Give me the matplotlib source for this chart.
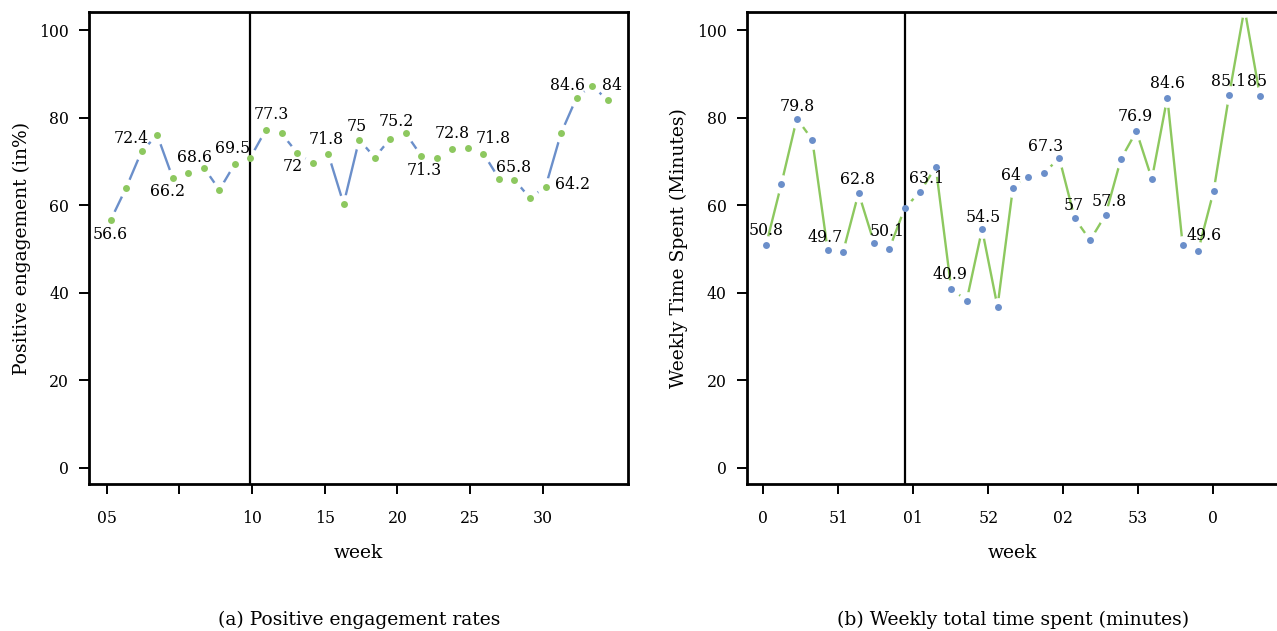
import numpy as np
import matplotlib
matplotlib.use("Agg")
import matplotlib.pyplot as plt

plt.rcParams['font.family'] = ['DejaVu Serif']

# Weekly series (one value per week)
engagement = [56.6, 64.0, 72.4, 76.0, 66.2, 67.3, 68.6, 63.5, 69.5, 70.9,
              77.3, 76.4, 72.0, 69.6, 71.8, 60.3, 75.0, 70.9, 75.2, 76.4,
              71.3, 70.9, 72.8, 73.1, 71.8, 66.1, 65.8, 61.6, 64.2, 76.5,
              84.6, 87.3, 84.0]
time_spent = [50.8, 64.9, 79.8, 75.0, 49.7, 49.4, 62.8, 51.4, 50.1, 59.4,
              63.1, 68.8, 40.9, 38.2, 54.5, 36.8, 64.0, 66.5, 67.3, 70.8,
              57.0, 52.0, 57.8, 70.6, 76.9, 66.0, 84.6, 50.8, 49.6, 63.2,
              85.1, 105.0, 85.0]

eng_ticklabels = ["05", "", "10", "15", "20", "25", "30"]
time_ticklabels = ["0", "51", "01", "52", "02", "53", "0"]
yticks = [0, 20, 40, 60, 80, 100]
split_week = 9

BLUE = "#6b8fca"
GREEN = "#8dc85f"

# label placement (pixel offsets of each label's centre from its point)
eng_label_offsets = [(0, -13), (-11, 13.4), (-5.4, -12.4), (-9.7, 11.6),
                     (-2.4, 16), (5.7, 16), (-4.6, -13), (-2, 14.7),
                     (-2, 14.3), (6, 18.7), (2.7, -14), (0, 17),
                     (10, 16.6), (-1.4, 13.3), (27, 3), (-9.6, 13.7),
                     (4, 16.3)]
time_label_offsets = [(0, 15.7), (0, 13.3), (-2.3, 14), (-1, 15),
                      (-2, 18), (6, 14), (-1.3, 15.6), (1.3, 13.3),
                      (-1.7, 13.4), (1.7, 28), (-1.3, 14.4), (4, 14),
                      (-0.7, 15.7), (0, 15.3), (5.7, 16), (0, 15),
                      (-3, 15)]

fig = plt.figure(figsize=(12.77, 6.31), dpi=100)
ax1 = fig.add_axes([0.0699, 0.2325, 0.4221, 0.748])
ax2 = fig.add_axes([0.5847, 0.2325, 0.4168, 0.748])


def draw_panel(ax, values, line_color, dot_color, xlim, tick0, tickstep,
               ticklabels, offsets, ylabel):
    x = np.arange(len(values))
    y = np.asarray(values)
    ax.plot(x, y, color=line_color, lw=1.7, zorder=2)
    # white halo around each point to break the line near the markers
    ax.plot(x, y, ls='none', marker='o', ms=13.5, mfc='white', mec='none',
            zorder=3)
    ax.axvline(split_week, color='black', lw=1.6, zorder=4)
    ax.plot(x, y, ls='none', marker='o', ms=5.0, mfc=dot_color, mec='none',
            zorder=5)
    for k, i in enumerate(range(0, len(values), 2)):
        dx, dy = offsets[k]
        ax.annotate(f"{values[i]:g}", (i, values[i]),
                    xytext=(dx, dy - 5.6), textcoords='offset pixels',
                    ha='center', va='baseline', fontsize=11.3, zorder=6,
                    annotation_clip=True)
    ax.set_xlim(*xlim)
    ax.set_ylim(-3.8, 104.1)
    ax.set_xticks([tick0 + tickstep * k for k in range(len(ticklabels))])
    ax.set_xticklabels(ticklabels)
    ax.set_yticks(yticks)
    ax.tick_params(direction='out', length=7.5, width=1.4, labelsize=11.3)
    ax.tick_params(axis='x', pad=11)
    ax.tick_params(axis='y', pad=7)
    for s in ax.spines.values():
        s.set_linewidth(2.0)
        s.set_zorder(10)
    ax.set_xlabel("week", fontsize=13.5, labelpad=12)
    ax.set_ylabel(ylabel, fontsize=13.5, labelpad=6)


draw_panel(ax1, engagement, BLUE, GREEN, (-1.378, 33.326), -0.258, 4.679,
           eng_ticklabels, eng_label_offsets, "Positive engagement (in%)")
draw_panel(ax2, time_spent, GREEN, BLUE, (-1.25, 33.23), -0.175, 4.858,
           time_ticklabels, time_label_offsets, "Weekly Time Spent (Minutes)")

fig.text(0.281, 0.017, "(a) Positive engagement rates", ha='center',
         va='center', fontsize=13.5)
fig.text(0.7932, 0.017, "(b) Weekly total time spent (minutes)", ha='center',
         va='center', fontsize=13.5)

fig.savefig("out.png", dpi=100)
